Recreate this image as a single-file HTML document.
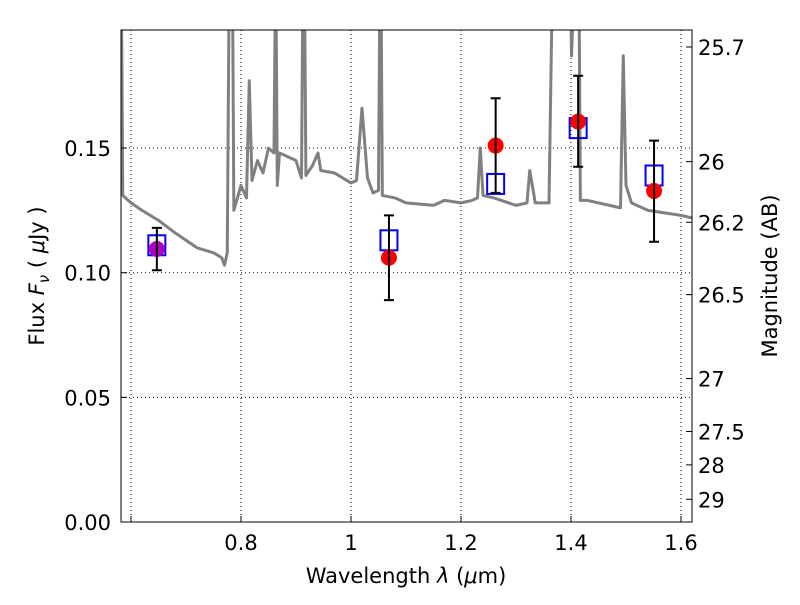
<!DOCTYPE html>
<html><head><meta charset="utf-8"><style>
body{margin:0;background:#fff;}
svg text{font-family:"DejaVu Sans","Liberation Sans",sans-serif;fill:#000;}
</style></head><body>
<svg id="chart" width="800" height="600" xmlns="http://www.w3.org/2000/svg">
<rect width="800" height="600" fill="#fff"/>
<defs><clipPath id="clip"><rect x="121" y="30" width="571" height="492"/></clipPath></defs>
<g id="grid"></g>
<g id="spec" clip-path="url(#clip)"></g>
<g id="marks"></g>
<rect x="121" y="30" width="571" height="492" fill="none" stroke="#000" stroke-width="1"/>
<g id="axes"></g>
<text x="406" y="583" font-size="21" text-anchor="middle">Wavelength  <tspan font-style="italic">λ</tspan> (<tspan font-style="italic">μ</tspan>m)</text>
<text transform="translate(44,276) rotate(-90)" font-size="21" text-anchor="middle">Flux  <tspan font-style="italic">F</tspan><tspan font-style="italic" font-size="15" dy="5">ν</tspan><tspan dy="-5">  ( </tspan><tspan font-style="italic">μ</tspan>Jy )</text>
<text transform="translate(777,276) rotate(-90)" font-size="21" text-anchor="middle">Magnitude (AB)</text>
</svg>
<script>
const xTicks=[0.6,0.8,1,1.2,1.4,1.6];
const xTickLabels=["","0.8","1","1.2","1.4","1.6"];
const yTicks=[0,0.05,0.10,0.15];
const yTickLabels=["0.00","0.05","0.10","0.15"];
const magTicks=[25.7,26,26.2,26.5,27,27.5,28,29];
const magTickLabels=["25.7","26","26.2","26.5","27","27.5","28","29"];
const specLam=[0.582,0.583,0.585,0.60,0.62,0.65,0.68,0.70,0.72,0.75,0.765,0.77,0.775,0.778,0.785,0.787,0.80,0.81,0.815,0.82,0.83,0.84,0.85,0.86,0.862,0.864,0.866,0.87,0.9,0.91,0.912,0.916,0.918,0.93,0.94,0.945,0.97,1.0,1.01,1.02,1.03,1.04,1.05,1.052,1.055,1.057,1.08,1.1,1.15,1.17,1.2,1.22,1.23,1.235,1.24,1.26,1.3,1.32,1.325,1.335,1.36,1.365,1.40,1.401,1.403,1.415,1.417,1.43,1.47,1.49,1.495,1.50,1.51,1.54,1.57,1.6,1.62];
const specFlux=[0.2,0.2,0.131,0.128,0.125,0.121,0.116,0.113,0.110,0.108,0.106,0.103,0.108,0.2,0.2,0.125,0.135,0.13,0.177,0.137,0.145,0.14,0.15,0.148,0.2,0.2,0.135,0.148,0.145,0.138,0.2,0.2,0.139,0.143,0.148,0.141,0.140,0.136,0.137,0.166,0.138,0.132,0.133,0.2,0.2,0.131,0.130,0.128,0.127,0.129,0.128,0.129,0.13,0.15,0.131,0.130,0.127,0.128,0.141,0.128,0.128,0.2,0.2,0.187,0.2,0.2,0.129,0.129,0.127,0.126,0.187,0.135,0.128,0.125,0.124,0.123,0.122];
const ptLam=[0.647,1.069,1.263,1.413,1.551];
const modelFlux=[0.111,0.113,0.1356,0.158,0.139];
const obsFlux=[0.1095,0.106,0.151,0.1606,0.1328];
const errLo=[0.101,0.089,0.132,0.1425,0.1124];
const errHi=[0.118,0.123,0.170,0.179,0.153];

const X=l=>131+(l-0.6)*550;
const Y=f=>522-f*2493;
const NS='http://www.w3.org/2000/svg';
function mk(tag,attrs,parent){const e=document.createElementNS(NS,tag);for(const k in attrs)e.setAttribute(k,attrs[k]);parent.appendChild(e);return e;}
const grid=document.getElementById('grid'),axes=document.getElementById('axes'),spec=document.getElementById('spec'),marks=document.getElementById('marks');
xTicks.forEach((t,i)=>{const x=X(t);
 const g=mk('line',{x1:x,x2:x,y1:30,y2:522,stroke:'#000','stroke-dasharray':'1,3','stroke-width':1},grid);
 
 
 const tk=mk('line',{x1:x,x2:x,y1:522,y2:516,stroke:'#000'},axes);
 
 
 const tx=mk('text',{x:x,y:550,'font-size':21,'text-anchor':'middle'},axes);tx.textContent=xTickLabels[i];
 
 
});
yTicks.forEach((t,i)=>{const y=Y(t);
 const g=mk('line',{x1:121,x2:692,y1:y,y2:y,stroke:'#000','stroke-dasharray':'1,3','stroke-width':1},grid);
 
 
 const tk=mk('line',{x1:121,x2:127,y1:y,y2:y,stroke:'#000'},axes);
 
 
 const tx=mk('text',{x:111,y:y+8,'font-size':21,'text-anchor':'end'},axes);tx.textContent=yTickLabels[i];
 
 
});
magTicks.forEach((m,i)=>{const y=Y(Math.pow(10,-0.4*(m-23.9)));
 const tk=mk('line',{x1:686,x2:692,y1:y,y2:y,stroke:'#000'},axes);
 
 
 const tx=mk('text',{x:698,y:y+8,'font-size':21},axes);tx.textContent=magTickLabels[i];
 
 
});
const pl=mk('polyline',{points:specLam.map((l,i)=>X(l)+','+Y(specFlux[i])).join(' '),fill:'none',stroke:'#808080','stroke-width':3,'stroke-linejoin':'round'},spec);


ptLam.forEach((l,i)=>{const x=X(l);
 const sq=mk('rect',{x:x-8.5,y:Y(modelFlux[i])-10,width:17,height:20,fill:'none',stroke:'#0000ff','stroke-width':2},marks);
 
 
 const c=mk('circle',{cx:x,cy:Y(obsFlux[i]),r:8,fill:i===0?'#b000c0':'#ff0000'},marks);
 
 
 const eb=mk('path',{d:`M${x},${Y(errLo[i])}V${Y(errHi[i])}M${x-5},${Y(errLo[i])}h10M${x-5},${Y(errHi[i])}h10`,stroke:'#000','stroke-width':2,fill:'none'},marks);
 
 
});
</script>
</body></html>
